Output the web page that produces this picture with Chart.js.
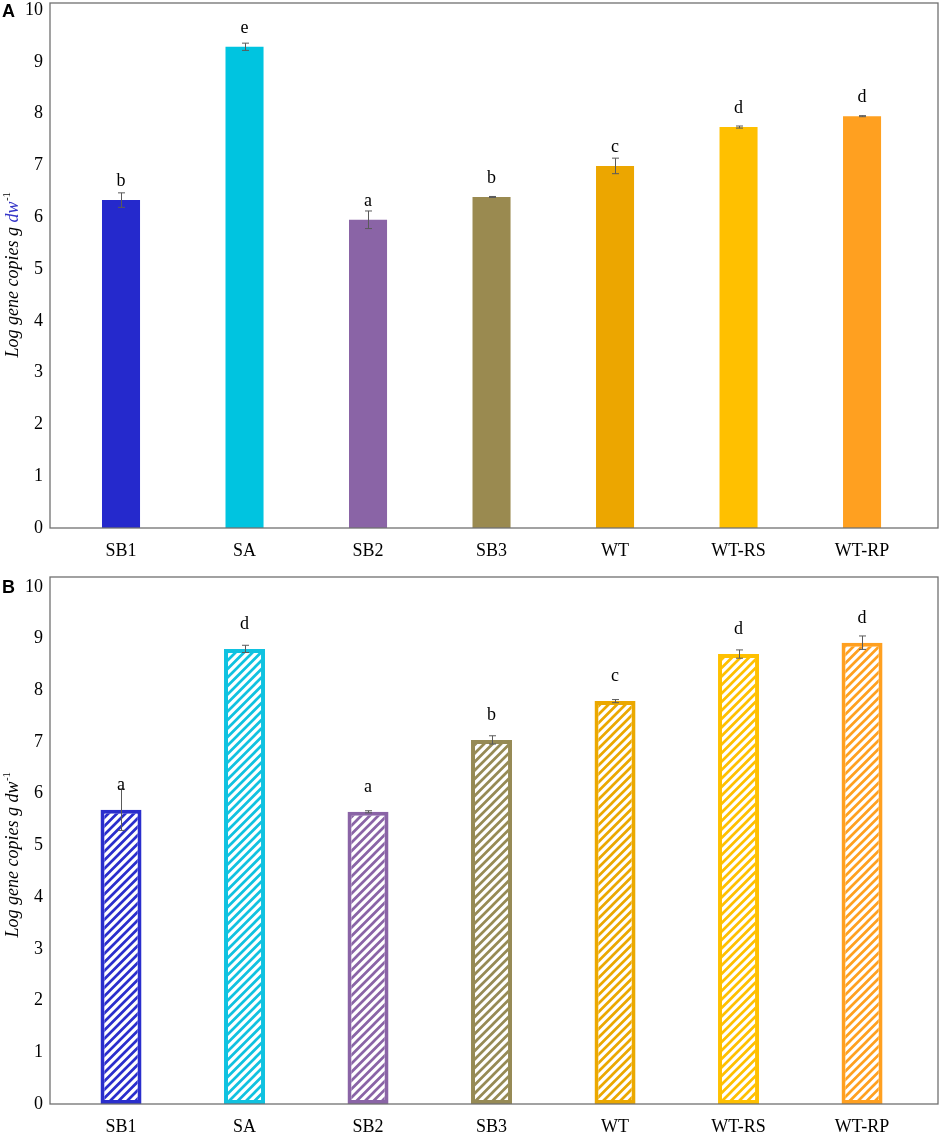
<!DOCTYPE html>
<html>
<head>
<meta charset="utf-8">
<script src="https://cdn.jsdelivr.net/npm/chart.js@4.4.1/dist/chart.umd.min.js"></script>
<style>
  html, body { margin: 0; padding: 0; background: #fff; }
  #wrapA { position: absolute; left: 0; top: 0; width: 941px; height: 565px; }
  #wrapB { position: absolute; left: 0; top: 565px; width: 941px; height: 569px; }
</style>
</head>
<body>
<div id="wrapA"><canvas id="chartA" width="941" height="565" style="width:941px;height:565px"></canvas></div>
<div id="wrapB"><canvas id="chartB" width="941" height="569" style="width:941px;height:569px"></canvas></div>
<script>
// ---- data ----
const categories = ['SB1', 'SA', 'SB2', 'SB3', 'WT', 'WT-RS', 'WT-RP'];
const yTickValues = [0, 1, 2, 3, 4, 5, 6, 7, 8, 9, 10];

const valuesA = [6.33, 9.29, 5.95, 6.39, 6.99, 7.74, 7.95];
const errorsA = [0.14, 0.07, 0.17, 0.01, 0.15, 0.02, 0.01];
const lettersA = ['b', 'e', 'a', 'b', 'c', 'd', 'd'];

const valuesB = [5.69, 8.80, 5.65, 7.04, 7.79, 8.70, 8.92];
const errorsB = [0.40, 0.07, 0.02, 0.08, 0.03, 0.08, 0.13];
const lettersB = ['a', 'd', 'a', 'b', 'c', 'd', 'd'];

const colorsA = ['#2529CC', '#00C4E0', '#8A64A6', '#9A8A50', '#ECA600', '#FFC000', '#FFA020'];
const colorsB = ['#2A2ECC', '#10C2E0', '#8A64A6', '#968A55', '#EBA800', '#FFC000', '#FFA020'];

// ---- helpers ----
function hatch(color) {
  const s = 8.5;
  const c = document.createElement('canvas');
  c.width = 17; c.height = 17;
  const g = c.getContext('2d');
  g.fillStyle = '#fff';
  g.fillRect(0, 0, 17, 17);
  g.strokeStyle = color;
  g.lineWidth = 2.7;
  g.beginPath();
  for (let k = -2; k <= 4; k++) {
    g.moveTo(k * s - 20, 20); g.lineTo(k * s + 20, -20);
  }
  g.stroke();
  return g.createPattern(c, 'repeat');
}

const serif = '"Liberation Serif", "Times New Roman", serif';

function makeOverlay(cfg) {
  return {
    id: 'overlay' + cfg.name,
    afterDatasetsDraw(chart) {
      const ctx = chart.ctx;
      const ys = chart.scales.y;
      const area = chart.chartArea;
      const meta = chart.getDatasetMeta(0);
      ctx.save();
      // error bars
      ctx.strokeStyle = '#5a5a5a';
      ctx.lineWidth = 1;
      meta.data.forEach((el, i) => {
        const v = cfg.values[i], e = cfg.errors[i];
        const x = Math.round(el.x) + 0.5;
        const yt = ys.getPixelForValue(v + e);
        const yb = ys.getPixelForValue(v - e);
        ctx.beginPath();
        ctx.moveTo(x, yt); ctx.lineTo(x, yb);
        ctx.moveTo(x - 3.5, yt); ctx.lineTo(x + 3.5, yt);
        ctx.moveTo(x - 3.5, yb); ctx.lineTo(x + 3.5, yb);
        ctx.stroke();
      });
      // significance letters
      ctx.fillStyle = '#000';
      ctx.font = '18px ' + serif;
      ctx.textAlign = 'center';
      ctx.textBaseline = 'alphabetic';
      meta.data.forEach((el, i) => {
        ctx.fillText(cfg.letters[i], el.x, el.y - cfg.letterGap);
      });
      // frame
      ctx.strokeStyle = '#707070';
      ctx.lineWidth = 1.3;
      ctx.strokeRect(area.left, area.top, area.right - area.left, area.bottom - area.top);
      // panel letter
      ctx.fillStyle = '#000';
      ctx.font = 'bold 18px "Liberation Sans", Arial, sans-serif';
      ctx.textAlign = 'left';
      ctx.textBaseline = 'middle';
      ctx.fillText(cfg.name, 2, cfg.panelY);
      // y-axis title (rich text)
      ctx.translate(13, cfg.titleY);
      ctx.rotate(-Math.PI / 2);
      const main = 'Log gene copies g ';
      const unit = 'dw';
      const sup = '-1';
      const fMain = 'italic 18px ' + serif;
      const fSup = '11px ' + serif;
      ctx.font = fMain;
      const w1 = ctx.measureText(main).width;
      const w2 = ctx.measureText(unit).width;
      ctx.font = fSup;
      const w3 = ctx.measureText(sup).width;
      let x0 = -(w1 + w2 + w3) / 2;
      ctx.textBaseline = 'middle';
      ctx.font = fMain;
      ctx.fillStyle = '#000';
      ctx.fillText(main, x0, 0);
      ctx.fillStyle = cfg.unitColor;
      ctx.fillText(unit, x0 + w1, 0);
      ctx.font = fSup;
      ctx.fillStyle = '#000';
      ctx.fillText(sup, x0 + w1 + w2 + 0.5, -6);
      ctx.restore();
    }
  };
}

function buildChart(canvasId, cfg) {
  const data = cfg.values.map((v, i) => ({ x: i, y: v }));
  return new Chart(document.getElementById(canvasId), {
    type: 'bar',
    data: {
      datasets: [{
        data: data,
        backgroundColor: cfg.bg,
        borderColor: cfg.border,
        borderWidth: cfg.borderWidth,
        borderSkipped: false,
        barPercentage: cfg.barPct,
        categoryPercentage: 1
      }]
    },
    options: {
      responsive: false,
      animation: false,
      layout: { padding: { top: cfg.padTop, right: 3, left: 0, bottom: 0 } },
      plugins: { legend: { display: false }, tooltip: { enabled: false } },
      scales: {
        x: {
          type: 'linear',
          offset: false,
          min: -0.575,
          max: 6.615,
          grid: { display: false, drawTicks: false, tickLength: 0, offset: false },
          border: { display: false },
          afterBuildTicks(scale) { scale.ticks = categories.map((c, i) => ({ value: i })); },
          afterFit(scale) { scale.height = cfg.xHeight; scale.paddingLeft = 0; scale.paddingRight = 0; },
          ticks: {
            autoSkip: false,
            maxRotation: 0,
            padding: cfg.xPad,
            color: '#000',
            font: { family: serif, size: 18 },
            callback: (v) => categories[v] !== undefined ? categories[v] : ''
          }
        },
        y: {
          min: 0,
          max: cfg.yMax,
          grid: { display: false, drawTicks: false, tickLength: 0 },
          border: { display: false },
          afterBuildTicks(scale) { scale.ticks = yTickValues.map(v => ({ value: v })); },
          afterFit(scale) { scale.width = 50; scale.paddingTop = 0; scale.paddingBottom = 0; },
          ticks: {
            padding: 7,
            color: '#000',
            font: { family: serif, size: 18 },
            callback: (v) => String(v)
          }
        }
      }
    },
    plugins: [makeOverlay(cfg)]
  });
}

buildChart('chartA', {
  name: 'A',
  values: valuesA, errors: errorsA, letters: lettersA,
  bg: colorsA, border: colorsA, borderWidth: 0, barPct: 0.308,
  padTop: 3, xHeight: 37, xPad: 12, yMax: 10.135,
  letterGap: 14, panelY: 12, titleY: 275, unitColor: '#3535C8'
});

buildChart('chartB', {
  name: 'B',
  values: valuesB, errors: errorsB, letters: lettersB,
  bg: colorsB.map(hatch), border: colorsB, borderWidth: 4, barPct: 0.332,
  padTop: 12, xHeight: 30, xPad: 12, yMax: 10.19,
  letterGap: 20, panelY: 23, titleY: 290, unitColor: '#000'
});
</script>
</body>
</html>
